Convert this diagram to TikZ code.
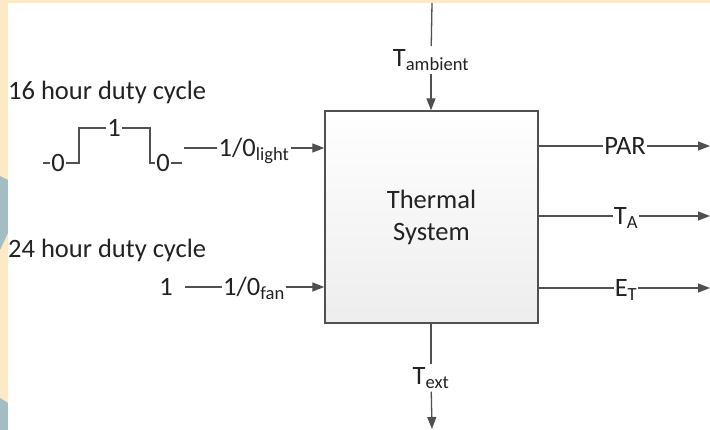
\documentclass[tikz,border=0pt]{standalone}
\usepackage{fontspec}
\setmainfont{Carlito}
\usetikzlibrary{arrows.meta}
\definecolor{cream}{HTML}{FDE9C6}
\definecolor{hexblue}{HTML}{A3BEC3}
\definecolor{linegray}{HTML}{505050}
\definecolor{txtgray}{HTML}{222222}

\begin{document}
\begin{tikzpicture}[x=1pt, y=-1pt,
    sysbox/.style={draw=linegray, line width=1.4pt, top color=white, bottom color=black!7, minimum width=213pt, minimum height=212pt, align=center, inner sep=0pt, text=txtgray, font=\fontsize{26.5}{32}\selectfont},
    lbl/.style={inner sep=3pt, text=txtgray, font=\fontsize{26.5}{32}\selectfont},
    hlbl/.style={inner sep=1pt, text height=17pt, text depth=0pt, text=txtgray, font=\fontsize{26.5}{32}\selectfont},
    wire/.style={draw=linegray, line width=1.3pt},
    arrow/.style={wire, -{Triangle[length=12pt, width=9pt]}}
]
    \useasboundingbox (0,0) rectangle (710,430);

    % ================= BACKGROUND =================
    \fill[cream] (0,0) rectangle (710,430);
    \fill[hexblue] (0,176) -- (8,180) -- (8,233) -- (0,250) -- cycle;
    \fill[hexblue] (0,398) -- (8,403) -- (8,430) -- (0,430) -- cycle;
    \fill[white] (8,3) rectangle (710,430);

    % ================= THERMAL SYSTEM =================
    \node[sysbox] (Sys) at (431.5, 217) {Thermal\\System};

    % Ambient input and external output
    \coordinate (TAmbIn) at (432, 3);
    \node[lbl] (TAmb) at (431, 60) {T\textsubscript{ambient}};
    \node[lbl] (TExt) at (431, 378) {T\textsubscript{ext}};
    \coordinate (TExtOut) at (432, 429);

    % ================= LEFT INPUTS =================
    \node[lbl, anchor=west] (Duty16) at (5, 92) {16 hour duty cycle};
    \node[lbl, anchor=west] (Duty24) at (5, 250) {24 hour duty cycle};

    % Square wave of the light
    \coordinate (WStart) at (43, 163);
    \node[hlbl] (W0a) at (58, 163) {0};
    \coordinate (WRise) at (79, 128);
    \node[hlbl] (W1) at (114, 128) {1};
    \coordinate (WFall) at (150, 163);
    \node[hlbl] (W0b) at (163, 163) {0};
    \coordinate (WEnd) at (182, 163);

    \coordinate (LightIn) at (184, 148);
    \node[hlbl] (Light) at (254, 148) {1/0\textsubscript{light}};

    \node[hlbl] (FanOn) at (166, 287) {1};
    \coordinate (FanIn) at (185, 287);
    \node[hlbl] (Fan) at (254, 287) {1/0\textsubscript{fan}};

    % ================= RIGHT OUTPUTS =================
    \node[hlbl] (PAR) at (625, 146) {PAR};
    \node[hlbl] (TA) at (626, 216) {T\textsubscript{A}};
    \node[hlbl] (ET) at (626, 288) {E\textsubscript{T}};
    \coordinate (PAROut) at (710, 146);
    \coordinate (TAOut) at (710, 216);
    \coordinate (ETOut) at (710, 288);

    % ================= DRAW CONNECTIONS =================
    \draw[wire] (TAmbIn) -- (TAmb);
    \draw[arrow] (TAmb) -- (TAmb |- Sys.north);
    \draw[wire] (TExt |- Sys.south) -- (TExt);
    \draw[arrow] (TExt) -- (TExtOut);

    \draw[wire] (WStart) -- (W0a);
    \draw[wire] (W0a) -| (WRise) -- (W1);
    \draw[wire] (W1) -| (WFall) -- (W0b);
    \draw[wire] (W0b) -- (WEnd);

    \draw[wire] (LightIn) -- (Light);
    \draw[arrow] (Light) -- (Light -| Sys.west);
    \draw[wire] (FanIn) -- (Fan);
    \draw[arrow] (Fan) -- (Fan -| Sys.west);

    \draw[wire] (Sys.east |- PAR) -- (PAR);
    \draw[arrow] (PAR) -- (PAROut);
    \draw[wire] (Sys.east |- TA) -- (TA);
    \draw[arrow] (TA) -- (TAOut);
    \draw[wire] (Sys.east |- ET) -- (ET);
    \draw[arrow] (ET) -- (ETOut);

\end{tikzpicture}
\end{document}
